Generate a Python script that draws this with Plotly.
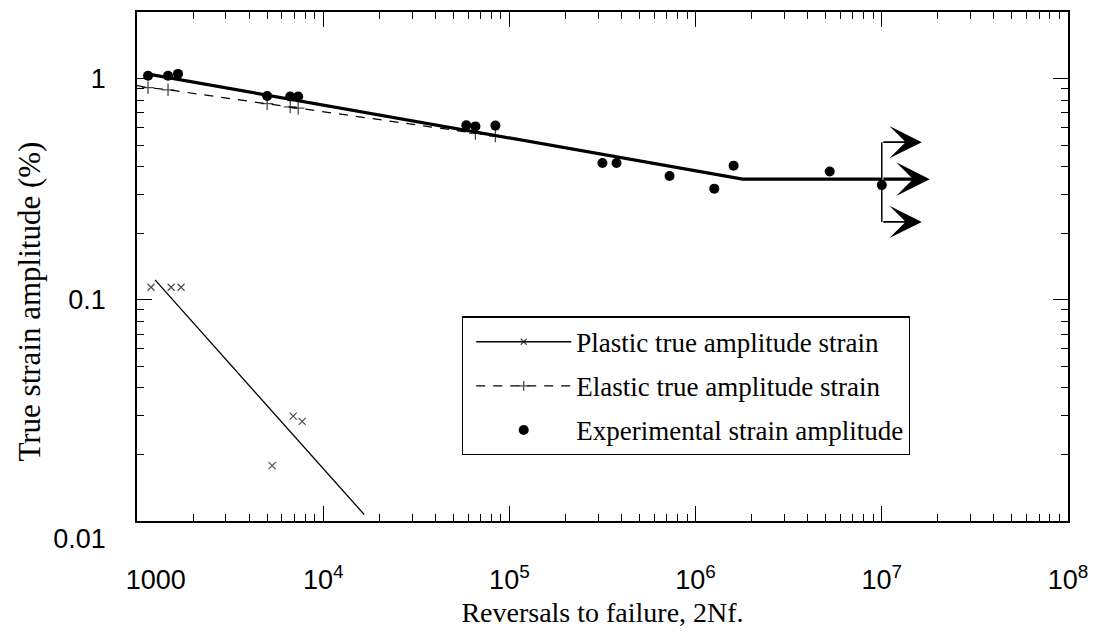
import math
import plotly.graph_objects as go

# ---------------- data ----------------
exp_N = [1146, 1468, 1660, 5000, 6650, 7340, 58700, 65700, 84100,
         316000, 376000, 725000, 1260000, 1600000, 5250000, 10000000]
exp_strain = [1.03, 1.03, 1.05, 0.834, 0.83, 0.83, 0.615, 0.608, 0.613,
              0.415, 0.415, 0.363, 0.318, 0.404, 0.38, 0.33]

plastic_N = [1190, 1525, 1725, 5320, 6900, 7710]
plastic_strain = [0.114, 0.114, 0.114, 0.0178, 0.0298, 0.0282]
plastic_fit_N = [1250, 16600]
plastic_fit_strain = [0.123, 0.0107]

elastic_N = [1000, 1146, 1468, 5000, 6650, 7340, 65700, 84100, 100000]
elastic_strain = [0.93, 0.91, 0.89, 0.77, 0.745, 0.735, 0.565, 0.55, 0.535]

total_N = [1130, 1790000, 10000000]
total_strain = [1.05, 0.351, 0.351]

runout_N = 10000000
runout_span = [0.516, 0.225]
arrow_tip_N = [18100000, 16400000, 16400000]
arrow_strain = [0.351, 0.516, 0.225]

x_tick_vals = [1e3, 1e4, 1e5, 1e6, 1e7, 1e8]
x_tick_text = ["&nbsp;&nbsp;&nbsp;&nbsp;&nbsp;1000", "10<sup>4</sup>",
               "10<sup>5</sup>", "10<sup>6</sup>", "10<sup>7</sup>",
               "10<sup>8</sup>"]
y_tick_vals = [0.01, 0.1, 1]
y_tick_text = ["<br>0.01", "0.1", "1"]

x_title = "Reversals to failure, 2Nf."
y_title = "True strain amplitude (%)"
legend_names = ["Plastic true amplitude strain",
                "Elastic true amplitude strain",
                "Experimental strain amplitude"]

# minor tick positions (2..9 in every decade)
x_minor = [m * 10 ** e for e in range(3, 8) for m in range(2, 10)]
y_minor = [m * 10 ** e for e in range(-2, 1) for m in range(2, 10) if m * 10 ** e < 2]

# ---------------- figure ----------------
fig = go.Figure()

# plastic: fitted line + scattered x markers in one trace (gaps separate them)
px, py, ps = list(plastic_fit_N), list(plastic_fit_strain), [0, 0]
for n, s in zip(plastic_N, plastic_strain):
    px += [None, n]
    py += [None, s]
    ps += [7, 7]
fig.add_trace(go.Scatter(
    x=px, y=py, mode="lines+markers", name=legend_names[0],
    legendgroup="a", legendrank=1,
    line=dict(color="black", width=1.3),
    marker=dict(symbol="x-thin", size=ps, color="black",
                line=dict(color="black", width=1.2)),
))

es = [0] + [9] * (len(elastic_N) - 2) + [0]
fig.add_trace(go.Scatter(
    x=elastic_N, y=elastic_strain, mode="lines+markers", name=legend_names[1],
    legendgroup="b", legendrank=2,
    line=dict(color="black", width=1.2, dash="9px,8px"),
    marker=dict(symbol="cross-thin", size=es, color="black",
                line=dict(color="black", width=1.3)),
))

fig.add_trace(go.Scatter(
    x=total_N, y=total_strain, mode="lines", showlegend=False,
    line=dict(color="black", width=3.2),
))
fig.add_trace(go.Scatter(
    x=[runout_N, runout_N], y=runout_span, mode="lines", showlegend=False,
    line=dict(color="black", width=1.5),
))

fig.add_trace(go.Scatter(
    x=exp_N, y=exp_strain, mode="markers", name=legend_names[2],
    legendgroup="c", legendrank=3,
    marker=dict(symbol="circle", size=10, color="black"),
))

for tipN, s, w in zip(arrow_tip_N, arrow_strain, [3.2, 1.8, 1.8]):
    fig.add_annotation(
        x=math.log10(tipN), y=math.log10(s),
        ax=math.log10(runout_N), ay=math.log10(s),
        xref="x", yref="y", axref="x", ayref="y",
        text="", showarrow=True, arrowhead=3,
        arrowsize=3.0 if w < 2 else 1.75,
        arrowwidth=w, arrowcolor="black",
    )

fig.add_annotation(
    text=y_title, textangle=-90, xref="paper", yref="paper",
    x=-0.115, y=0.431, xanchor="center", yanchor="middle", showarrow=False,
    font=dict(family="Liberation Serif", size=31, color="black"),
)

axis_common = dict(
    showline=True, linecolor="black", linewidth=1.5, mirror="allticks",
    ticks="inside", ticklen=15, tickwidth=1.2, tickcolor="black",
    showgrid=False, zeroline=False,
    tickfont=dict(family="Liberation Sans", size=27, color="black"),
)

fig.update_xaxes(
    type="log", range=[3, 8], tickvals=x_tick_vals, ticktext=x_tick_text,
    ticklabelstandoff=34,
    minor=dict(ticks="inside", ticklen=7, tickwidth=1.1, tickcolor="black",
               tickvals=x_minor, showgrid=False),
    title=dict(text=x_title,
               font=dict(family="Liberation Serif", size=28, color="black"),
               standoff=8),
    **axis_common,
)
fig.update_yaxes(
    type="log", range=[-2, math.log10(2)], tickvals=y_tick_vals,
    ticktext=y_tick_text, ticklabelstandoff=24,
    minor=dict(ticks="inside", ticklen=7, tickwidth=1.1, tickcolor="black",
               tickvals=y_minor, showgrid=False),
    **axis_common,
)

fig.update_layout(
    width=1101, height=634,
    margin=dict(l=137, r=33, t=10, b=113),
    paper_bgcolor="white", plot_bgcolor="white",
    legend=dict(
        x=0.349, y=0.402, xanchor="left", yanchor="top",
        bgcolor="white", bordercolor="black", borderwidth=1.3,
        font=dict(family="Liberation Serif", size=27, color="black"),
        itemwidth=95, tracegroupgap=6, indentation=8,
        entrywidth=420, entrywidthmode="pixels",
    ),
)

fig.write_html("out.html")
